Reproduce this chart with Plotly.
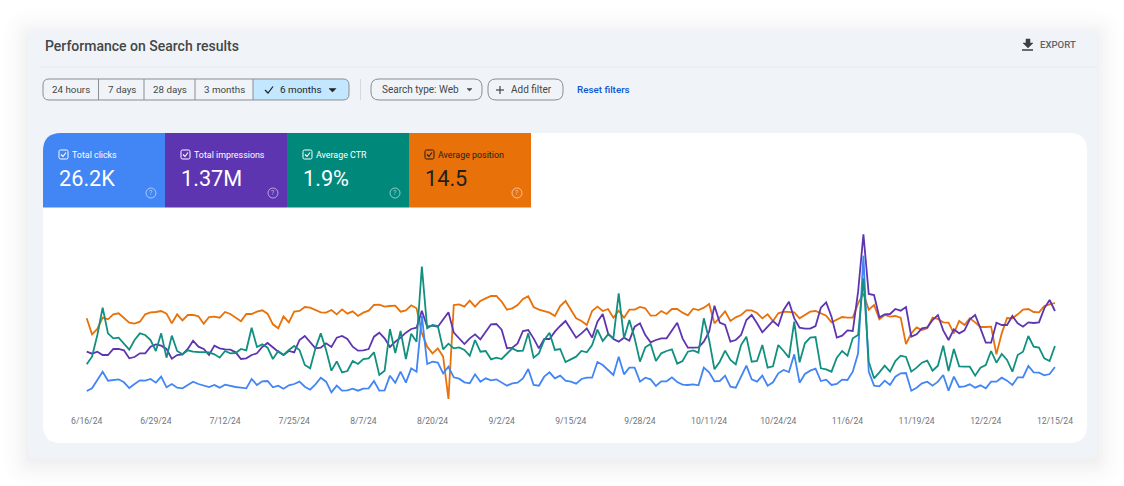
import pandas as pd
import plotly.graph_objects as go

# Daily values. The chart hides its y axes, so these are read as relative heights off the picture
clicks = [132, 140, 165, 190, 163, 165, 167, 158, 141, 153, 164, 163, 168, 157, 175, 143, 153, 142, 140, 150, 160, 153, 149, 144, 150, 142, 151, 147, 144, 142, 140, 168, 150, 161, 162, 143, 148, 139, 149, 153, 160, 145, 136, 152, 172,
          160, 128, 148, 133, 134, 139, 133, 139, 140, 162, 133, 134, 178, 157, 190, 157, 200, 190, 358, 213, 220, 217, 185, 205, 173, 169, 158, 155, 182, 160, 170, 164, 167, 158, 148, 155, 157, 170, 198, 150, 148, 175, 188, 170, 178,
          163, 160, 154, 168, 172, 172, 219, 210, 195, 180, 235, 182, 202, 202, 160, 172, 167, 147, 161, 161, 173, 159, 151, 150, 152, 149, 202, 188, 161, 162, 178, 145, 142, 175, 208, 167, 160, 178, 148, 158, 185, 195, 189, 242, 157, 183, 193, 199,
          162, 166, 150, 153, 166, 165, 190, 245, 538, 190, 148, 146, 163, 150, 175, 185, 186, 133, 142, 155, 160, 148, 160, 180, 133, 175, 144, 146, 152, 142, 149, 140, 160, 160, 172, 163, 150, 173, 173, 207, 188, 187, 179, 183, 204]
impressions = [250, 244, 250, 240, 240, 258, 258, 254, 230, 234, 245, 245, 265, 272, 268, 258, 229, 240, 242, 258, 283, 265, 258, 240, 268, 260, 257, 256, 248, 228, 230, 240, 245, 264, 276, 262, 250, 240, 252, 248, 285, 297, 280, 260, 262,
               275, 264, 292, 297, 288, 265, 253, 254, 258, 295, 307, 290, 264, 280, 292, 307, 318, 322, 373, 325, 328, 325, 347, 368, 307, 290, 273, 290, 302, 287, 310, 332, 333, 316, 260, 262, 275, 312, 315, 290, 260, 288, 288, 310, 327,
               342, 317, 292, 305, 320, 292, 340, 363, 305, 288, 280, 292, 283, 325, 335, 300, 278, 285, 290, 290, 312, 337, 290, 262, 262, 263, 280, 310, 388, 337, 330, 280, 285, 300, 345, 360, 335, 308, 325, 342, 328, 375, 400, 350, 322, 319, 319, 327,
               382, 398, 355, 292, 298, 314, 312, 430, 602, 423, 420, 353, 362, 363, 378, 373, 384, 295, 302, 320, 323, 345, 360, 314, 285, 317, 305, 314, 347, 360, 320, 277, 277, 337, 330, 330, 357, 335, 325, 338, 336, 338, 380, 405, 372]
ctr = [212, 235, 300, 382, 305, 290, 292, 274, 256, 285, 305, 300, 285, 252, 305, 232, 298, 252, 242, 254, 250, 249, 249, 248, 242, 232, 252, 245, 246, 258, 254, 322, 264, 272, 262, 228, 252, 240, 255, 267, 255, 210, 200, 260, 305,
       255, 193, 221, 188, 192, 222, 213, 228, 230, 248, 180, 193, 318, 246, 312, 228, 304, 280, 505, 320, 330, 327, 257, 274, 260, 263, 255, 238, 285, 250, 252, 227, 232, 228, 245, 260, 252, 253, 305, 232, 245, 285, 307, 255, 258,
       219, 227, 235, 252, 248, 270, 316, 282, 302, 290, 425, 290, 345, 290, 220, 263, 273, 222, 245, 252, 257, 214, 222, 250, 254, 247, 350, 285, 197, 220, 253, 225, 212, 270, 295, 220, 222, 270, 202, 206, 270, 252, 232, 340, 218, 275, 292, 294,
       200, 197, 190, 232, 252, 238, 290, 300, 470, 220, 170, 188, 208, 190, 222, 238, 234, 190, 202, 217, 223, 193, 208, 268, 192, 258, 206, 205, 205, 178, 202, 210, 252, 217, 243, 225, 190, 240, 250, 297, 265, 262, 230, 222, 267]
position = [350, 302, 318, 352, 347, 362, 365, 350, 337, 334, 340, 362, 368, 369, 372, 364, 335, 362, 344, 360, 360, 356, 334, 354, 355, 352, 369, 363, 353, 341, 363, 363, 370, 374, 364, 332, 320, 356, 338, 370, 372, 384, 382, 374, 368,
            367, 375, 362, 377, 364, 371, 357, 367, 373, 390, 391, 385, 387, 388, 370, 374, 389, 380, 305, 265, 245, 260, 235, 108, 390, 392, 385, 403, 385, 402, 410, 417, 417, 400, 376, 380, 390, 408, 416, 384, 376, 372, 367, 357, 387,
            402, 375, 350, 342, 330, 372, 385, 372, 378, 352, 373, 352, 376, 376, 384, 380, 358, 359, 372, 363, 378, 378, 367, 359, 379, 375, 382, 393, 335, 352, 371, 342, 353, 360, 374, 374, 366, 350, 362, 342, 365, 370, 370, 368, 350, 360, 370, 372,
            364, 358, 338, 346, 354, 352, 352, 395, 425, 376, 390, 347, 360, 355, 357, 352, 273, 305, 323, 315, 320, 352, 348, 338, 337, 305, 342, 330, 350, 338, 324, 324, 325, 242, 305, 351, 350, 362, 376, 378, 369, 368, 387, 392, 396]
assert len(clicks) == len(impressions) == len(ctr) == len(position) == 183

dates = pd.date_range("2024-06-16", "2024-12-15")
tick_labels = ["6/16/24", "6/29/24", "7/12/24", "7/25/24", "8/7/24", "8/20/24", "9/2/24", "9/15/24",
               "9/28/24", "10/11/24", "10/24/24", "11/6/24", "11/19/24", "12/2/24", "12/15/24"]
tick_dates = ["2024-06-16", "2024-06-29", "2024-07-12", "2024-07-25", "2024-08-07", "2024-08-20", "2024-09-02", "2024-09-15",
              "2024-09-28", "2024-10-11", "2024-10-24", "2024-11-06", "2024-11-19", "2024-12-02", "2024-12-15"]

metric_names = ["Total clicks", "Total impressions", "Average CTR", "Average position"]
metric_values = ["26.2K", "1.37M", "1.9%", "14.5"]
range_labels = ["24 hours", "7 days", "28 days", "3 months", "6 months"]

W = 1124
H = 486
FONT = "Roboto"
BLUE = "#4285f4"
PURPLE = "#5e35b1"
TEAL = "#00897b"
ORANGE = "#e8710a"
BORDER = "#8a8d91"
metric_colors = [BLUE, PURPLE, TEAL, ORANGE]


def pt(x, y):
    return f"{x / W:.5f},{1 - y / H:.5f}"


def round_path(x0, y0, x1, y1, tl=0, tr=0, br=0, bl=0):
    # rounded box, one radius per corner, the values are page pixels
    return (f"M{pt(x0 + tl, y0)} L{pt(x1 - tr, y0)} Q{pt(x1, y0)} {pt(x1, y0 + tr)} "
            f"L{pt(x1, y1 - br)} Q{pt(x1, y1)} {pt(x1 - br, y1)} "
            f"L{pt(x0 + bl, y1)} Q{pt(x0, y1)} {pt(x0, y1 - bl)} "
            f"L{pt(x0, y0 + tl)} Q{pt(x0, y0)} {pt(x0 + tl, y0)} Z")


shapes = []
notes = []


def box(x0, y0, x1, y1, r=(0, 0, 0, 0), fill="rgba(0,0,0,0)", line=None, width=1, opacity=1):
    shapes.append(dict(type="path", path=round_path(x0, y0, x1, y1, *r), xref="paper", yref="paper", layer="below",
                       fillcolor=fill, opacity=opacity, line=dict(color=line, width=width if line else 0)))


def stroke(points, color, width=1.2, fill=None):
    path = "M" + " L".join(pt(x, y) for x, y in points)
    if fill:
        path += " Z"
    shapes.append(dict(type="path", path=path, xref="paper", yref="paper", layer="below",
                       fillcolor=fill, line=dict(color=color, width=width)))


def text(x, y, s, size, color, anchor="left", weight=400):
    notes.append(dict(x=x / W, y=1 - y / H, xref="paper", yref="paper", text=s, showarrow=False, xanchor=anchor,
                      yanchor="middle", align=anchor, borderpad=0, borderwidth=0,
                      font=dict(family=FONT, size=size, color=color, weight=weight)))


# soft shadow, a little heavier below the card, then the card
for grow, shade in [(26, 0.003), (23, 0.003), (20, 0.004), (17, 0.005), (14, 0.005), (11, 0.006), (8, 0.007), (5, 0.008), (2, 0.01)]:
    box(28 - grow, 29 - grow + 5, 1097 + grow, 457 + grow + 5, (grow + 6,) * 4, fill="#000000", opacity=shade)
box(28, 29, 1097, 457, (5, 5, 5, 5), fill="#f0f4f9")
stroke([(41, 67), (1097, 67)], "#e6eaee", 1)
text(45, 46, "Performance on Search results", 14, "#444746", weight=500)

# export
stroke([(1026, 39), (1030, 39), (1030, 43), (1033, 43), (1028, 48), (1023, 43), (1026, 43)], "#3c4043", 0.5, fill="#3c4043")
stroke([(1022, 50), (1033, 50)], "#3c4043", 1.5)
text(1040, 45, "EXPORT", 9.6, "#5f6368", weight=500)

# range buttons
box(253, 79, 349, 100, (0, 6, 6, 0), fill="#c2e7ff")
box(43, 79, 349, 100, (6, 6, 6, 6), line=BORDER)
for sep in [98.5, 144, 195, 253]:
    stroke([(sep, 79), (sep, 100)], BORDER, 1)
for cx, label in zip([71, 121.5, 169.5, 224.5], range_labels[:4]):
    text(cx, 90, label, 9.8, "#444746", anchor="center")
stroke([(265, 90), (268, 93), (273, 86.5)], "#1f1f1f", 1.2)
text(280, 90, range_labels[4], 9.9, "#1f1f1f")
stroke([(329, 88.5), (336, 88.5), (332.5, 92)], "#1f1f1f", 0.5, fill="#1f1f1f")
stroke([(360.5, 79), (360.5, 100)], "#d5d9de", 1)

# filters
box(371, 79, 482, 100, (8, 8, 8, 8), line=BORDER)
text(382, 90, "Search type: Web", 10, "#444746")
stroke([(467, 88.5), (472, 88.5), (469.5, 91)], "#444746", 0.5, fill="#444746")
box(488, 79, 563, 100, (8, 8, 8, 8), line=BORDER)
stroke([(496, 90), (504, 90)], "#444746", 1.2)
stroke([(500, 86), (500, 94)], "#444746", 1.2)
text(511, 90, "Add filter", 10, "#444746")
text(577, 90, "Reset filters", 9.8, "#0b57d0", weight=500)

# white panel with the metric tiles
box(43, 133, 1087, 443, (18, 18, 18, 18), fill="#ffffff")
for i, (name, value, color) in enumerate(zip(metric_names, metric_values, metric_colors)):
    x0 = 43 + 122 * i
    ink = "#1f1f1f" if i == 3 else "#ffffff"
    box(x0, 133, x0 + 122, 207.5, (18, 0, 0, 0) if i == 0 else (0, 0, 0, 0), fill=color)
    box(x0 + 16, 150, x0 + 25, 159, (1.5, 1.5, 1.5, 1.5), line=ink, width=1)
    stroke([(x0 + 18, 154.5), (x0 + 20, 156.5), (x0 + 23, 152.5)], ink, 1.1)
    text(x0 + 29, 154.5, name, 8.9, ink)
    text(x0 + 16, 178, value, 21.7, ink)
    shapes.append(dict(type="circle", xref="paper", yref="paper", layer="below",
                       x0=(x0 + 103) / W, x1=(x0 + 113) / W, y0=1 - 198 / H, y1=1 - 188 / H,
                       line=dict(color="rgba(255,255,255,0.55)", width=1)))
    text(x0 + 108, 193, "?", 7, "rgba(255,255,255,0.6)", anchor="center")

fig = go.Figure()
# drawn in this order so the spike at 11/9 looks like the Search Console one
for values, color, name in [(position, ORANGE, "Average position"), (impressions, PURPLE, "Total impressions"),
                            (clicks, BLUE, "Total clicks"), (ctr, "#12907f", "Average CTR")]:
    fig.add_trace(go.Scatter(x=dates, y=values, name=name, mode="lines", line=dict(color=color, width=1.8)))

fig.update_xaxes(domain=[0, 1], range=[dates[0] - pd.Timedelta(hours=24 * 86.7 / 5.32), dates[0] + pd.Timedelta(hours=24 * (1124 - 86.7) / 5.32)],
                 tickmode="array", tickvals=tick_dates, ticktext=tick_labels, showgrid=False, zeroline=False, showline=False,
                 ticks="outside", ticklen=1, tickcolor="rgba(0,0,0,0)", tickfont=dict(family=FONT, size=8.6, color="#70757a"))
fig.update_yaxes(domain=[1 - 412 / H, 1 - 225 / H], range=[69, 630], visible=False)
fig.update_layout(width=W, height=H, margin=dict(l=0, r=0, t=0, b=0), autosize=False, showlegend=False,
                  paper_bgcolor="#ffffff", plot_bgcolor="rgba(0,0,0,0)", shapes=shapes, annotations=notes,
                  font=dict(family=FONT))

fig.write_html("out.html", config=dict(displayModeBar=False),
               post_script="document.body.style.margin='0';document.body.style.overflow='hidden';")
